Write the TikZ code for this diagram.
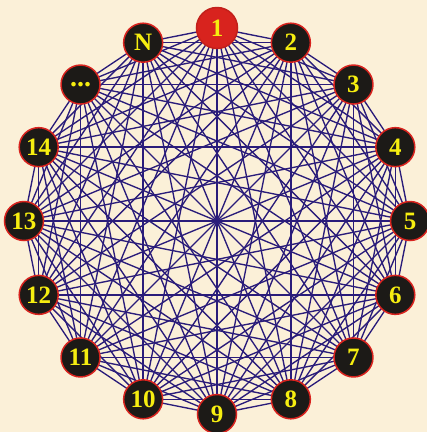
\documentclass[tikz,border=0pt]{standalone}
\usepackage{fontspec}
\setmainfont{Liberation Serif}
\begin{document}
\begin{tikzpicture}[x=1pt,y=-1pt,
  vert/.style={circle,draw=nodered,line width=1.5pt,fill=nodeblack,minimum size=39pt,inner sep=0pt,
    text=nodeyellow,font=\fontsize{25}{25}\selectfont\bfseries},
  firstvert/.style={vert,fill=nodered,draw=nodered!90!black,minimum size=41pt},
  edge/.style={draw=edgeblue,line width=1.35pt}]
\definecolor{nodered}{HTML}{D8231E}
\definecolor{nodeblack}{HTML}{1C1A17}
\definecolor{nodeyellow}{HTML}{F6EE10}
\definecolor{edgeblue}{HTML}{2A1C7A}
\definecolor{bg}{HTML}{FBF0D8}
\fill[bg] (0,0) rectangle (427,432);
\useasboundingbox (0,0) rectangle (427,432);
\def\cx{217}\def\cy{221}\def\R{193}
\foreach \k in {1,...,16}{
  \coordinate (p\k) at ({\cx+\R*cos(90-(\k-1)*22.5)},{\cy-\R*sin(90-(\k-1)*22.5)});
}
\foreach \i in {1,...,15}{
  \pgfmathtruncatemacro{\s}{\i+1}
  \foreach \j in {\s,...,16}{
    \draw[edge] (p\i) -- (p\j);
  }
}
\node[firstvert] (n1) at (p1) {1};
\foreach \k in {2,...,14}{
  \node[vert] (n\k) at (p\k) {\k};
}
\node[vert] (n15) at (p15) {\raisebox{-0.3ex}{\fontsize{28}{28}\selectfont...}};
\node[vert] (n16) at (p16) {N};
\end{tikzpicture}
\end{document}
